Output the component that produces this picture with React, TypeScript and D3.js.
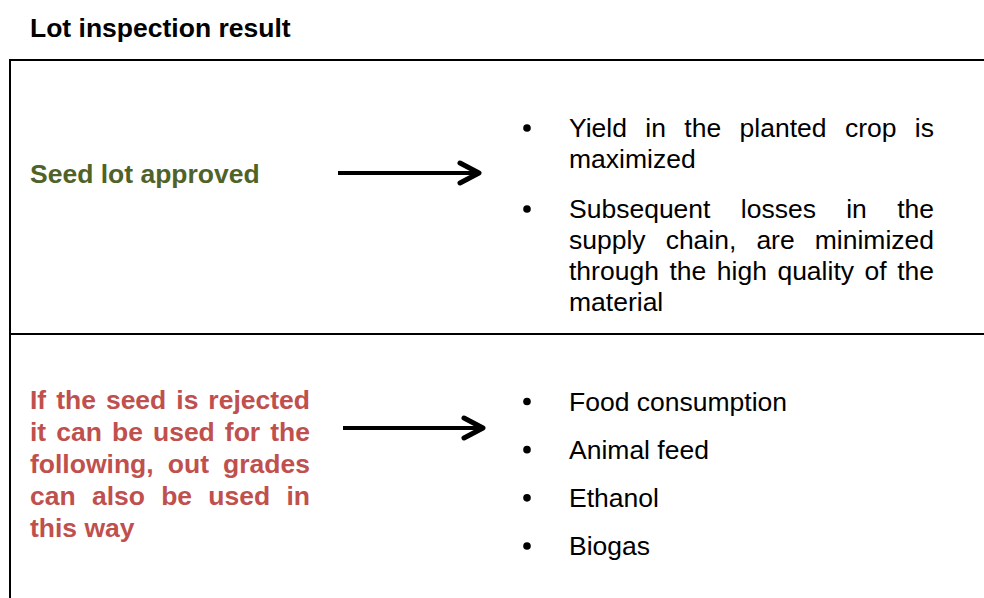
import React, { useEffect, useRef } from 'react';
import * as d3 from 'd3';

// Text content
const title = 'Lot inspection result';
const approvedLabel = 'Seed lot approved';
const approvedOutcomes = [
  ['Yield in the planted crop is', 'maximized'],
  ['Subsequent losses in the', 'supply chain, are minimized', 'through the high quality of the', 'material'],
];
const rejectedLabelLines = [
  'If the seed is rejected',
  'it can be used for the',
  'following, out grades',
  'can also be used in',
  'this way',
];
const rejectedUses = ['Food consumption', 'Animal feed', 'Ethanol', 'Biogas'];

const W = 984;
const H = 598;
const FONT = '"Liberation Sans", Arial, Helvetica, sans-serif';
const FS = 26.5;
const GREEN = '#4F6228';
const RED = '#C0504D';

const App = () => {
  const svgRef = useRef<SVGSVGElement>(null);

  useEffect(() => {
    document.body.style.margin = '0';
    const svg = d3.select(svgRef.current)
      .attr('width', W)
      .attr('height', H)
      .style('background', '#fff')
      .style('font-family', FONT);

    svg.selectAll('*').remove();

    // writes one line; justified lines spread their words to fill x0..x1
    const writeLine = (g, line, x0, x1, y, justify, opts) => {
      if (!justify) {
        g.append('text')
          .attr('x', x0).attr('y', y)
          .attr('fill', opts.fill)
          .attr('font-size', FS)
          .attr('font-weight', opts.bold ? 'bold' : 'normal')
          .text(line);
        return;
      }
      const words = line.split(' ');
      const nodes = words.map(w => g.append('text')
        .attr('y', y)
        .attr('fill', opts.fill)
        .attr('font-size', FS)
        .attr('font-weight', opts.bold ? 'bold' : 'normal')
        .text(w));
      const widths = nodes.map(n => n.node().getComputedTextLength());
      const gap = (x1 - x0 - d3.sum(widths)) / Math.max(1, words.length - 1);
      let x = x0;
      nodes.forEach((n, i) => {
        n.attr('x', x);
        x += widths[i] + gap;
      });
    };

    const arrow = (x0, x1, y) => {
      svg.append('line')
        .attr('x1', x0).attr('x2', x1 - 3)
        .attr('y1', y).attr('y2', y)
        .attr('stroke', '#000').attr('stroke-width', 4);
      const head = d3.line()([[x1 - 20, y - 10], [x1 - 1, y], [x1 - 20, y + 10]]);
      svg.append('path')
        .attr('d', head)
        .attr('fill', 'none')
        .attr('stroke', '#000')
        .attr('stroke-width', 5)
        .attr('stroke-linecap', 'round')
        .attr('stroke-linejoin', 'round');
    };

    // Title
    svg.append('text')
      .attr('x', 30).attr('y', 37)
      .attr('font-size', FS)
      .attr('font-weight', 'bold')
      .attr('fill', '#000')
      .text(title);

    // Box frame
    const frame = svg.append('g').attr('stroke', '#000').attr('stroke-width', 2);
    frame.append('line').attr('x1', 10).attr('x2', W).attr('y1', 60).attr('y2', 60);
    frame.append('line').attr('x1', 10).attr('x2', 10).attr('y1', 59).attr('y2', H);
    frame.append('line').attr('x1', 10).attr('x2', W).attr('y1', 334).attr('y2', 334);

    // Approved row
    svg.append('text')
      .attr('x', 30).attr('y', 183)
      .attr('font-size', FS)
      .attr('font-weight', 'bold')
      .attr('fill', GREEN)
      .text(approvedLabel);
    arrow(338, 480, 173);

    const topG = svg.append('g');
    let baseline = 137;
    approvedOutcomes.forEach(lines => {
      topG.append('circle').attr('cx', 527).attr('cy', baseline - 9).attr('r', 3.8).attr('fill', '#000');
      lines.forEach((line, i) => {
        const last = i === lines.length - 1;
        writeLine(topG, line, 569, 934, baseline, !last, { fill: '#000', bold: false });
        baseline += 31;
      });
      baseline += 19;
    });

    // Rejected row
    const redG = svg.append('g');
    rejectedLabelLines.forEach((line, i) => {
      const last = i === rejectedLabelLines.length - 1;
      writeLine(redG, line, 30, 310, 409 + i * 32, !last, { fill: RED, bold: true });
    });
    arrow(343, 484, 428);

    const usesY = d3.scalePoint().domain(rejectedUses).range([410.5, 555]);
    const botG = svg.append('g');
    rejectedUses.forEach(u => {
      const y = usesY(u);
      botG.append('circle').attr('cx', 527).attr('cy', y - 9).attr('r', 3.8).attr('fill', '#000');
      writeLine(botG, u, 569, 934, y, false, { fill: '#000', bold: false });
    });
  }, []);

  return <svg ref={svgRef}></svg>;
};

export default App;
